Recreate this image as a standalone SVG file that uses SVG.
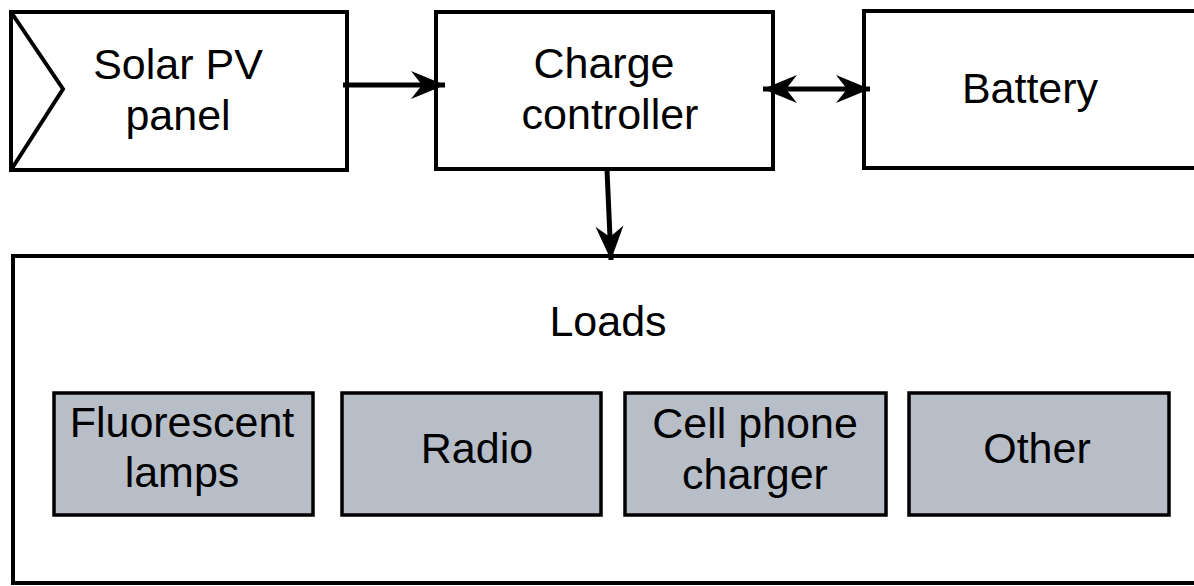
<svg xmlns="http://www.w3.org/2000/svg" width="1194" height="586" viewBox="0 0 1194 586">
<style>
.box{fill:#fff;stroke:#000;stroke-width:4}
.load{fill:#b8bec8;stroke:#000;stroke-width:3.5}
.t{font-family:"Liberation Sans",Arial,sans-serif;font-size:43px;fill:#000;text-anchor:middle}
.c{stroke:#000;stroke-width:5;fill:none}
</style>
<defs>
<marker id="ah" viewBox="-34 -15 36 30" refX="0" refY="0" markerWidth="36" markerHeight="30" markerUnits="userSpaceOnUse" orient="auto-start-reverse">
<path d="M0,0 L-34,-14 L-23,0 L-34,14 Z" fill="#000"/>
</marker>
</defs>
<g id="solar">
<rect class="box" x="11" y="12" width="336" height="158"/>
<polyline points="11,12 63,89 11,170" fill="none" stroke="#000" stroke-width="4"/>
<text class="t" x="178" y="79">Solar PV</text>
<text class="t" x="178" y="130">panel</text>
</g>
<g id="controller">
<rect class="box" x="436" y="12" width="337" height="157"/>
<text class="t" x="604" y="78">Charge</text>
<text class="t" x="610" y="129">controller</text>
</g>
<g id="battery">
<rect class="box" x="864" y="11" width="340" height="157"/>
<text class="t" x="1030" y="103">Battery</text>
</g>
<g id="loads">
<rect class="box" x="13" y="256" width="1191" height="327"/>
<text class="t" x="608" y="336">Loads</text>
</g>
<g id="fluorescent">
<rect class="load" x="54" y="393" width="259" height="122"/>
<text class="t" x="182" y="437">Fluorescent</text>
<text class="t" x="182" y="487">lamps</text>
</g>
<g id="radio">
<rect class="load" x="342" y="393" width="259" height="122"/>
<text class="t" x="477" y="463">Radio</text>
</g>
<g id="cellphone">
<rect class="load" x="625" y="393" width="261" height="122"/>
<text class="t" x="755" y="438">Cell phone</text>
<text class="t" x="755" y="489">charger</text>
</g>
<g id="other">
<rect class="load" x="909" y="393" width="260" height="122"/>
<text class="t" x="1037" y="463">Other</text>
</g>
<g id="connectors">
<line class="c" x1="343" y1="85" x2="445" y2="85" marker-end="url(#ah)"/>
<line class="c" x1="763" y1="89" x2="870" y2="89" marker-start="url(#ah)" marker-end="url(#ah)"/>
<line class="c" x1="607" y1="170" x2="611" y2="260" marker-end="url(#ah)"/>
</g>
</svg>
